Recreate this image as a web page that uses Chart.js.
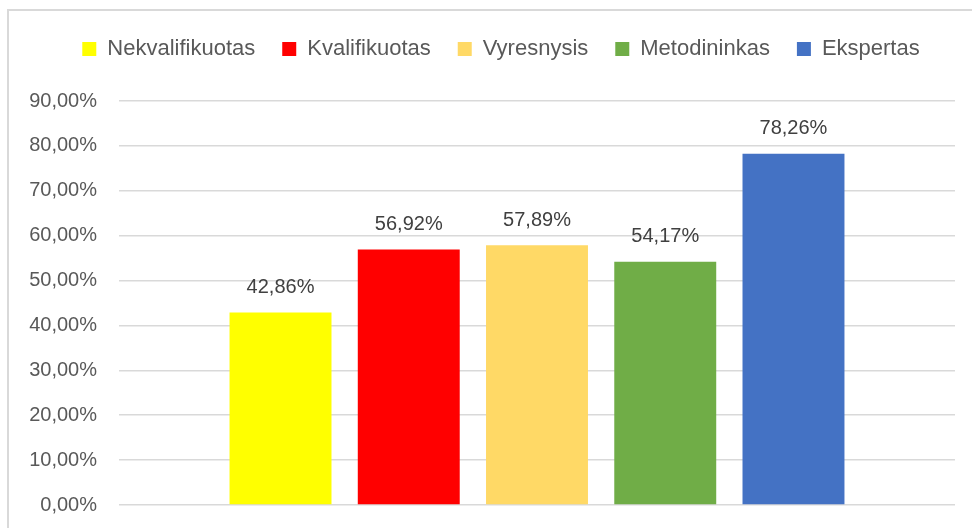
<!DOCTYPE html>
<html>
<head>
<meta charset="utf-8">
<script src="https://cdn.jsdelivr.net/npm/chart.js@4"></script>
<style>
  html, body { margin: 0; padding: 0; background: #fff; overflow: hidden; }
  #wrap { position: relative; width: 972px; height: 528px; overflow: hidden; }
  #frame { position: absolute; left: 7px; top: 9px; width: 1000px; height: 600px;
           border-left: 2px solid #d9d9d9; border-top: 2px solid #d9d9d9; }
  #box { position: absolute; left: 0; top: 0; width: 972px; height: 528px; }
</style>
</head>
<body>
<div id="wrap">
  <div id="frame"></div>
  <div id="box"><canvas id="chart"></canvas></div>
</div>
<script>
// 범주와 값
var categories = [''];
var seriesNames = ['Nekvalifikuotas', 'Kvalifikuotas', 'Vyresnysis', 'Metodininkas', 'Ekspertas'];
var seriesValues = [42.86, 56.92, 57.89, 54.17, 78.26];
var seriesColors = ['#FFFF00', '#FF0000', '#FFD966', '#70AD47', '#4472C4'];
var tickMin = 0;
var tickMax = 90;
var tickStep = 10;

var FONT = '"Liberation Sans", Arial, sans-serif';

function fmtPct(v) {
  return Number(v).toFixed(2).replace('.', ',') + '%';
}

// 막대 위에 값 표시
var valueLabels = {
  id: 'valueLabels',
  afterDatasetsDraw: function(chart) {
    var ctx = chart.ctx;
    ctx.save();
    ctx.font = '20px ' + FONT;
    ctx.fillStyle = '#404040';
    ctx.textAlign = 'center';
    ctx.textBaseline = 'bottom';
    chart.data.datasets.forEach(function(ds, i) {
      var meta = chart.getDatasetMeta(i);
      meta.data.forEach(function(bar, j) {
        ctx.fillText(fmtPct(ds.data[j]), bar.x, bar.y - 15);
      });
    });
    ctx.restore();
  }
};

// 범례 아래 여백 + 범례 가로 위치 조정
var legendTweak = {
  id: 'legendTweak',
  beforeInit: function(chart) {
    var origFit = chart.legend.fit;
    chart.legend.fit = function() {
      origFit.bind(chart.legend)();
      this.height += 31;
    };
  },
  afterLayout: function(chart) {
    chart.legend.left += 20;
    chart.legend.right += 20;
  }
};

var datasets = seriesNames.map(function(name, i) {
  return {
    label: name,
    data: [seriesValues[i]],
    backgroundColor: seriesColors[i],
    borderWidth: 0
  };
});

var ctx = document.getElementById('chart').getContext('2d');
new Chart(ctx, {
  type: 'bar',
  data: { labels: categories, datasets: datasets },
  options: {
    responsive: true,
    maintainAspectRatio: false,
    animation: false,
    layout: { padding: { left: 7, right: 17, top: 11, bottom: 23 } },
    datasets: { bar: { categoryPercentage: 0.767, barPercentage: 0.795 } },
    plugins: {
      legend: {
        position: 'top',
        labels: {
          boxWidth: 14,
          boxHeight: 14,
          padding: 27,
          color: '#595959',
          font: { family: FONT, size: 22 }
        }
      },
      tooltip: { enabled: false }
    },
    scales: {
      x: { display: false },
      y: {
        min: tickMin,
        max: tickMax,
        border: { display: false },
        grid: { color: '#d9d9d9', lineWidth: 1.5, drawTicks: true, tickLength: 22, tickColor: 'rgba(0,0,0,0)' },
        afterFit: function(s) { s.width = 112; },
        ticks: {
          stepSize: tickStep,
          padding: 0,
          color: '#595959',
          font: { family: FONT, size: 20 },
          callback: function(v) { return fmtPct(v); }
        }
      }
    }
  },
  plugins: [valueLabels, legendTweak]
});
</script>
</body>
</html>
